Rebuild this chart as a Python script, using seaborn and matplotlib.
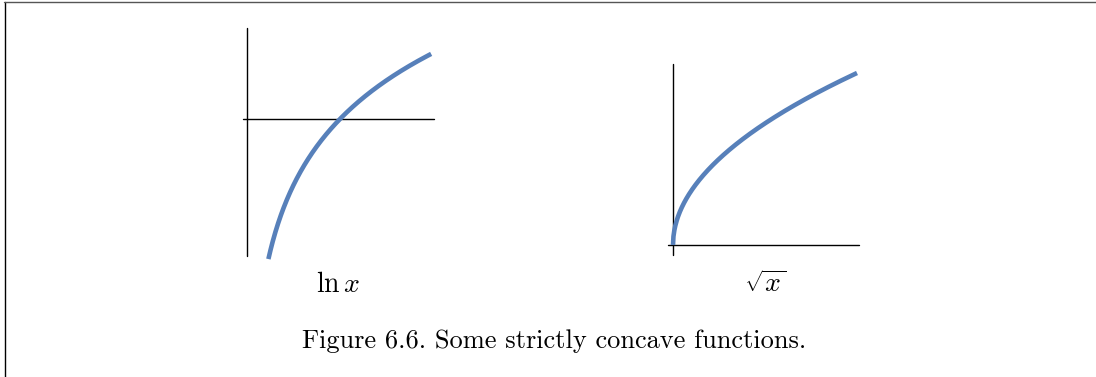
import numpy as np
import matplotlib
matplotlib.use("Agg")
import matplotlib.pyplot as plt
from matplotlib.lines import Line2D
import seaborn as sns

sns.set_theme(style="white")
plt.rcParams["mathtext.fontset"] = "cm"

# ---- data -------------------------------------------------------------
# ln x panel
ln_x = np.linspace(0.23, 1.98, 300)
ln_y = np.log(ln_x)
ln_vaxis_y = [-1.44, 0.955]      # vertical axis extent (at x = 0)
ln_haxis_x = [-0.043, 2.011]     # horizontal axis extent (at y = 0)

# sqrt x panel
sq_x = np.linspace(0.0, 4.0, 400)
sq_y = np.sqrt(sq_x)
sq_vaxis_y = [-0.116, 2.105]
sq_haxis_x = [-0.109, 4.043]

labels = [r"$\ln x$", r"$\sqrt{x}$"]
caption = "Figure 6.6. Some strictly concave functions."

CURVE = "#5780ba"
W, H = 1096, 377
fig = plt.figure(figsize=(W / 100, H / 100), dpi=100)


def panel(box, origin, scale):
    """Axes placed by a pixel box, with data units set by origin/scale in px."""
    (l, t, r, b), (ox, oy), (sx, sy) = box, origin, scale
    ax = fig.add_axes([l / W, (H - b) / H, (r - l) / W, (b - t) / H])
    ax.set_xlim((l - ox) / sx, (r - ox) / sx)
    ax.set_ylim((oy - b) / sy, (oy - t) / sy)
    ax.set_axis_off()
    return ax


ax1 = panel((230, 15, 450, 275), (247, 119), (93, 95.3))
ax1.plot([0, 0], ln_vaxis_y, color="black", lw=1.0)
ax1.plot(ln_haxis_x, [0, 0], color="black", lw=1.0)
sns.lineplot(x=ln_x, y=ln_y, ax=ax1, color=CURVE, linewidth=3.3,
             sort=False, estimator=None)
ax1.lines[-1].set_solid_capstyle("butt")

ax2 = panel((655, 45, 875, 270), (673, 245), (46, 86))
ax2.plot([0, 0], sq_vaxis_y, color="black", lw=1.0)
ax2.plot(sq_haxis_x, [0, 0], color="black", lw=1.0)
sns.lineplot(x=sq_x, y=sq_y, ax=ax2, color=CURVE, linewidth=3.3,
             sort=False, estimator=None)
ax2.lines[-1].set_solid_capstyle("butt")

fig.text(338 / W, 1 - 292 / H, labels[0], ha="center", va="baseline",
         fontsize=20, color="black")
fig.text(765 / W, 1 - 292 / H, labels[1], ha="center", va="baseline",
         fontsize=20, color="black")
fig.text(554 / W, 1 - 348 / H, caption, ha="center", va="baseline",
         fontsize=19, family="cmr10", color="black")

# frame lines on the top and left edges
fig.add_artist(Line2D([4.5 / W, 4.5 / W], [0, 1 - 1.5 / H],
                      transform=fig.transFigure, color="black", lw=1.0))
fig.add_artist(Line2D([4 / W, 1], [1 - 1.5 / H, 1 - 1.5 / H],
                      transform=fig.transFigure, color="#555555", lw=1.0))

fig.savefig("out.png", dpi=100, facecolor="white")
